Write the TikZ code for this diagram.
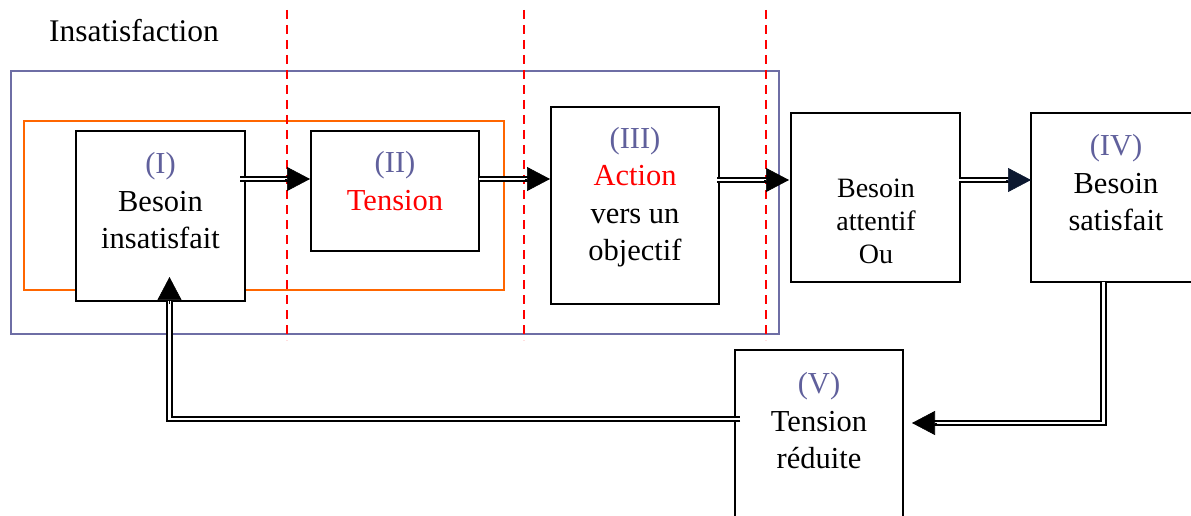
\documentclass[tikz,border=0pt]{standalone}
\usepackage{fontspec}
\setmainfont{Liberation Serif}
\usetikzlibrary{arrows.meta,calc}
\definecolor{numc}{RGB}{96,96,156}
\definecolor{framec}{RGB}{110,110,165}
\definecolor{orgc}{RGB}{255,102,0}
\definecolor{navyc}{RGB}{12,24,48}
\begin{document}
\begin{tikzpicture}[x=1pt,y=-1pt,
  box/.style={draw, fill=white, line width=2pt, inner sep=0pt, outer sep=0pt, anchor=north west},
  txt/.style={align=center, font=\fontsize{30.5}{37.5}\selectfont, inner sep=0pt},
  dbl/.style={draw, double, double distance=2.2pt, line width=2.3pt},
  hd/.style={-{Triangle[length=23pt,width=24pt]}, line width=0.6pt},
  sep/.style={red, dashed, dash pattern=on 9pt off 6pt, line width=1.4pt}]
\useasboundingbox (0,0) rectangle (1191,516);
\clip (0,0) rectangle (1191,516);
% frames
\node[draw=framec, line width=1.7pt, minimum width=768pt, minimum height=263pt, anchor=north west, inner sep=0pt] (outer) at (10,70) {};
\node[draw=orgc, line width=1.8pt, minimum width=480pt, minimum height=169pt, anchor=north west, inner sep=0pt] (inner) at (23,120) {};
% boxes
\node[box, minimum width=169pt, minimum height=170pt] (b1) at (76,131) {};
\node[box, minimum width=168pt, minimum height=120pt] (b2) at (311,131) {};
\node[box, minimum width=168pt, minimum height=197pt] (b3) at (551,107) {};
\node[box, minimum width=169pt, minimum height=169pt] (b4) at (791,113) {};
\node[box, minimum width=169pt, minimum height=169pt] (b5) at (1031,113) {};
\node[box, minimum width=168pt, minimum height=180pt] (b6) at (735,350) {};
% separators
\foreach \xx/\nm in {287/s1,524/s2,766/s3}{
  \coordinate (\nm a) at (\xx,10);
  \coordinate (\nm b) at (\xx,340);
  \draw[sep] (\nm a) -- (\nm b);
}
% texts
\node[txt, font=\fontsize{31.5}{36}\selectfont] (title) at (134,31) {Insatisfaction};
\node[txt] (t1) at (160.5,201) {\textcolor{numc}{(I)}\\Besoin\\insatisfait};
\node[txt] (t2) at (395,181) {\textcolor{numc}{(II)}\\\textcolor{red}{Tension}};
\node[txt] (t3) at (635,197) {\textcolor{numc}{(III)}\\\textcolor{red}{Action}\\vers un\\objectif};
\node[txt, font=\fontsize{28}{33}\selectfont] (t4) at (876,221) {Besoin\\attentif\\Ou};
\node[txt] (t5) at (1116,183) {\textcolor{numc}{(IV)}\\Besoin\\satisfait};
\node[txt] (t6) at (819,421) {\textcolor{numc}{(V)}\\Tension\\réduite};
% arrows
\draw[dbl] ($(b1.east |- 0,179)+(-5,0)$) -- ($(b2.west |- 0,179)+(-20,0)$);
\draw[hd] ($(b2.west |- 0,179)+(-26,0)$) -- ($(b2.west |- 0,179)+(-1,0)$);
\draw[dbl] ($(b2.east |- 0,179)+(0,0)$) -- ($(b3.west |- 0,179)+(-20,0)$);
\draw[hd] ($(b3.west |- 0,179)+(-26,0)$) -- ($(b3.west |- 0,179)+(-1,0)$);
\draw[dbl] ($(b3.east |- 0,180)+(-2,0)$) -- ($(b4.west |- 0,180)+(-20,0)$);
\draw[hd] ($(b4.west |- 0,180)+(-27,0)$) -- ($(b4.west |- 0,180)+(-2,0)$);
\draw[dbl] ($(b4.east |- 0,180)+(-1,0)$) -- ($(b5.west |- 0,180)+(-20,0)$);
\draw[hd, navyc] ($(b5.west |- 0,180)+(-25,0)$) -- ($(b5.west |- 0,180)+(0,0)$);
\draw[dbl] ($(b5.south)+(-12,0)$) |- ($(b6.east |- 0,423)+(30,0)$);
\draw[hd] ($(b6.east |- 0,423)+(34,0)$) -- ($(b6.east |- 0,423)+(9,0)$);
\draw[dbl] ($(b6.west |- 0,419)+(5,0)$) -| ($(b1.south)+(9,0)$);
\draw[hd] ($(b1.south)+(9,3)$) -- ($(b1.south)+(9,-24)$);
\end{tikzpicture}
\end{document}
